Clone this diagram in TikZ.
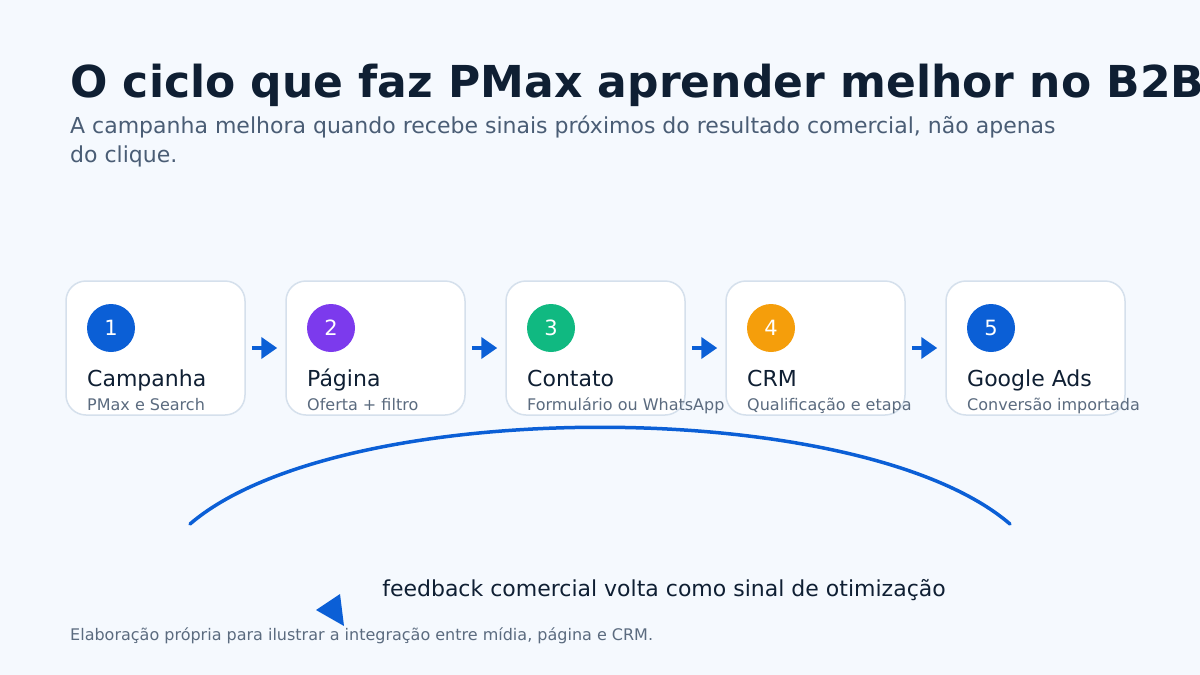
\documentclass[tikz,border=0pt]{standalone}
\usepackage{fontspec}
\setmainfont{DejaVu Sans}
\usetikzlibrary{arrows.meta}
\definecolor{bgc}{HTML}{F5F9FE}
\definecolor{titc}{HTML}{0F1F33}
\definecolor{subc}{HTML}{4A5D75}
\definecolor{smallc}{HTML}{5B6B7F}
\definecolor{boxline}{HTML}{D5E0EC}
\definecolor{blueA}{HTML}{0B5FD6}
\definecolor{purpA}{HTML}{7C3AED}
\definecolor{greenA}{HTML}{10B981}
\definecolor{orangeA}{HTML}{F59E0B}
\tikzset{
  stepbox/.style={draw=boxline, line width=1.5pt, fill=white, rounded corners=20pt,
    minimum width=179pt, minimum height=134pt, inner sep=0pt},
  numdot/.style={circle, minimum size=48pt, inner sep=0pt, text=white, font=\fontsize{21}{25}\selectfont},
  boxtitle/.style={anchor=base west, inner sep=0pt, text=titc, font=\fontsize{22}{26}\selectfont},
  boxsub/.style={anchor=base west, inner sep=0pt, text=smallc, font=\fontsize{16}{19}\selectfont},
  flowarr/.style={draw=blueA, line width=4pt, -{Triangle[length=16pt,width=21pt]}},
}
\begin{document}
\begin{tikzpicture}[x=1pt,y=-1pt]
\fill[bgc] (0,0) rectangle (1200,675);
\useasboundingbox (0,0) rectangle (1200,675);
\begin{scope}
\clip (0,0) rectangle (1200,675);
\node[anchor=base west, inner sep=0pt, text=titc, font=\fontsize{44}{50}\selectfont\bfseries] (title) at (70,97) {O ciclo que faz PMax aprender melhor no B2B};
\end{scope}
\node[anchor=base west, inner sep=0pt, text=subc, font=\fontsize{22}{29}\selectfont] (sub1) at (70,133) {A campanha melhora quando recebe sinais próximos do resultado comercial, não apenas};
\node[anchor=base west, inner sep=0pt, text=subc, font=\fontsize{22}{29}\selectfont] (sub2) at (70,162) {do clique.};

\foreach \i/\c/\t/\s in {1/blueA/Campanha/PMax e Search,2/purpA/Página/Oferta + filtro,3/greenA/Contato/Formulário ou WhatsApp,4/orangeA/CRM/Qualificação e etapa,5/blueA/Google Ads/Conversão importada}{
  \pgfmathsetmacro{\bx}{66+220*(\i-1)}
  \node[stepbox] (b\i) at (\bx+89.5,348) {};
  \node[numdot, fill=\c] (n\i) at (\bx+45,328) {\i};
  \node[boxtitle] (t\i) at (\bx+21,386) {\t};
  \node[boxsub] (s\i) at (\bx+21,410) {\s};
}
\foreach \i/\j in {1/2,2/3,3/4,4/5}{
  \draw[flowarr] ([xshift=6pt]b\i.east) -- ([xshift=-8pt]b\j.west);
}

\coordinate (arcL) at (190,524);
\coordinate (arcR) at (1010,524);
\draw[blueA, line width=3.5pt, line cap=round] (arcL) .. controls (340,395) and (860,395) .. (arcR);

\node[anchor=base, inner sep=0pt, text=titc, font=\fontsize{22}{26}\selectfont] (fb) at (664,596) {feedback comercial volta como sinal de otimização};
\fill[blueA] (316,610) -- (340,594) -- (344,626) -- cycle;

\node[anchor=base west, inner sep=0pt, text=smallc, font=\fontsize{16}{19}\selectfont] (foot) at (70,640) {Elaboração própria para ilustrar a integração entre mídia, página e CRM.};
\end{tikzpicture}
\end{document}
